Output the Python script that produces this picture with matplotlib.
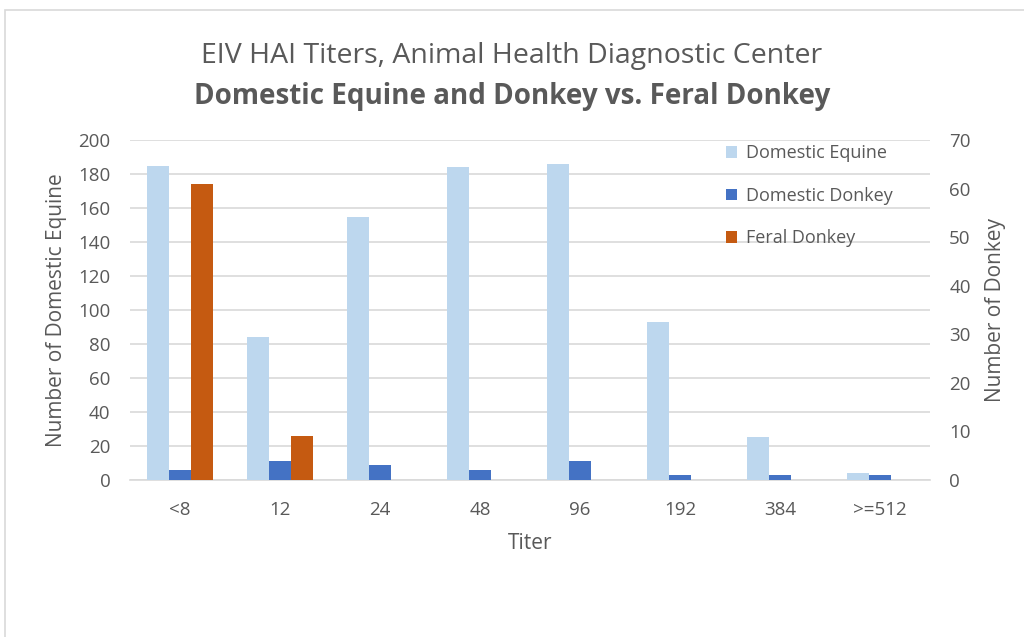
import numpy as np
import matplotlib
matplotlib.use("Agg")
import matplotlib.pyplot as plt
from matplotlib.patches import Rectangle

plt.rcParams['font.family'] = ['Open Sans', 'DejaVu Sans']

# data
titers = ["<8", "12", "24", "48", "96", "192", "384", ">=512"]
domestic_equine = [185, 84, 155, 184, 186, 93, 25, 4]
domestic_donkey = [2, 4, 3, 2, 4, 1, 1, 1]
feral_donkey = [61, 9, 0, 0, 0, 0, 0, 0]

c_equine = "#bdd7ee"
c_donkey = "#4472c4"
c_feral = "#c55a11"
txt = "#595959"

fig = plt.figure(figsize=(10.24, 6.37), dpi=100)
ax = fig.add_axes([0.127, 0.2465, 0.781, 0.5335])
ax2 = ax.twinx()

x = np.arange(len(titers))
w = 0.22

b1 = ax.bar(x - w, domestic_equine, w, color=c_equine, label="Domestic Equine", zorder=3)
b2 = ax2.bar(x, domestic_donkey, w, color=c_donkey, label="Domestic Donkey", zorder=3)
b3 = ax2.bar(x + w, feral_donkey, w, color=c_feral, label="Feral Donkey", zorder=3)

ax.set_ylim(0, 200)
ax.set_yticks(range(0, 201, 20))
ax2.set_ylim(0, 70)
ax2.set_yticks(range(0, 71, 10))
ax.set_xlim(-0.5, len(titers) - 0.5)
ax.set_xticks(x)
ax.set_xticklabels(titers)

ax.yaxis.grid(True, color="#d9d9d9", linewidth=1.2, zorder=0)
ax.set_axisbelow(True)

for a in (ax, ax2):
    for s in a.spines.values():
        s.set_visible(False)
    a.tick_params(length=0, labelsize=13.5, colors=txt, pad=14)
ax.spines["bottom"].set_visible(True)
ax.spines["bottom"].set_color("#d9d9d9")
ax.spines["bottom"].set_linewidth(1.2)
ax.tick_params(axis="x", pad=15)

ax.set_xlabel("Titer", fontsize=15, color=txt, labelpad=10)
ax.set_ylabel("Number of Domestic Equine", fontsize=15, color=txt, labelpad=8)
ax2.set_ylabel("Number of Donkey", fontsize=15, color=txt, labelpad=10)

fig.text(0.5, 0.912, "EIV HAI Titers, Animal Health Diagnostic Center",
         ha="center", va="center", fontsize=20.5, color=txt)
fig.text(0.5, 0.849, "Domestic Equine and Donkey vs. Feral Donkey",
         ha="center", va="center", fontsize=20, color=txt, fontweight="bold")

leg = ax2.legend(handles=[b1, b2, b3], loc="upper left", bbox_to_anchor=(0.725, 1.035),
                 frameon=False, fontsize=13, labelspacing=1.35,
                 handlelength=0.6, handleheight=0.6, handletextpad=0.5)
for t in leg.get_texts():
    t.set_color(txt)

# outer chart border
fig.patches.append(Rectangle((5 / 1024, -0.1), 1.2, 1 - 10 / 637 + 0.1,
                             transform=fig.transFigure, fill=False,
                             edgecolor="#d9d9d9", linewidth=1.2))

fig.savefig("out.png", dpi=100)
